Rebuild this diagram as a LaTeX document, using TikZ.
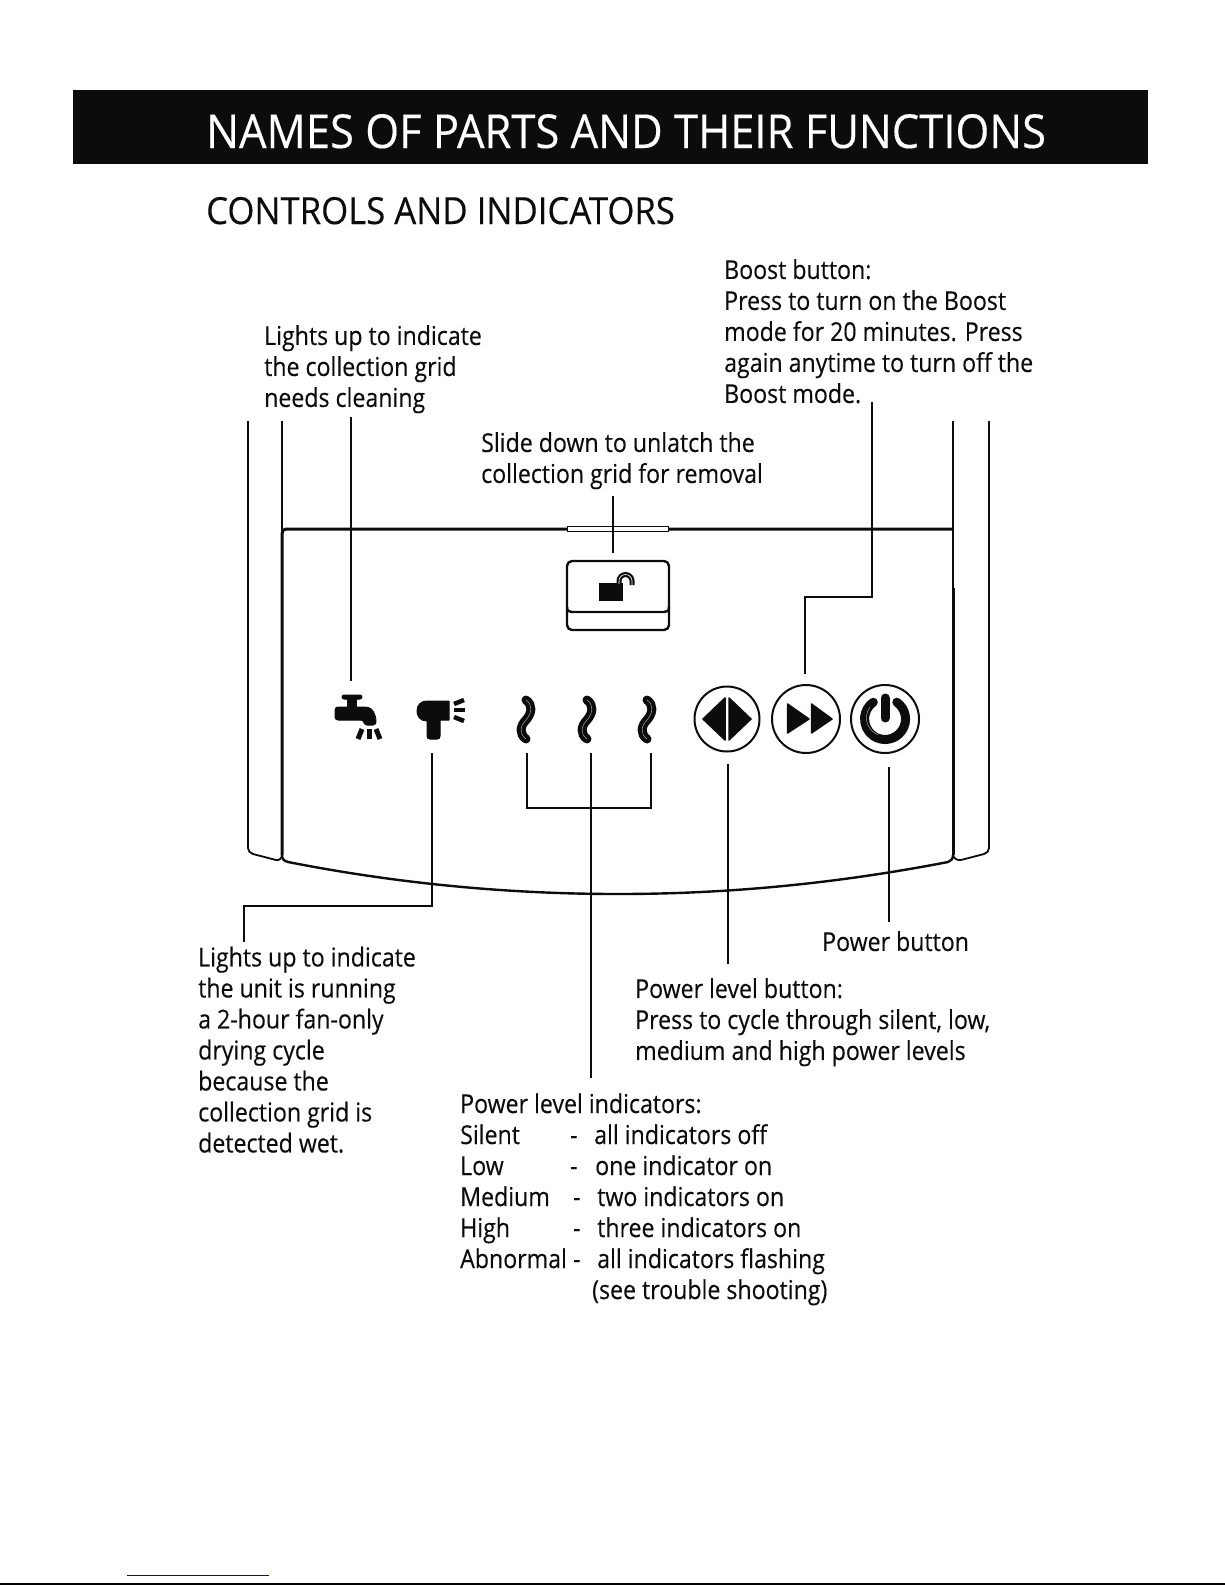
\documentclass[tikz,border=0pt]{standalone}
\usepackage{fontspec}
\setmainfont[FakeStretch=.89,FakeBold=.25]{Open Sans}
\newfontfamily\headfont[FakeStretch=.93,FakeBold=.25]{Open Sans}
\usetikzlibrary{calc}
\definecolor{inkblack}{HTML}{0C0C0C}
\tikzset{
  note/.style={anchor=north west, inner sep=0pt, align=left, text=inkblack, font=\fontsize{26}{31}\selectfont},
  row/.style={anchor=base west, inner sep=0pt, text=inkblack, font=\fontsize{26}{31}\selectfont},
  leader/.style={draw=inkblack, line width=1.2pt},
  shell/.style={draw=inkblack, line width=1.8pt, line join=round},
  ring/.style={draw=inkblack, line width=2pt},
  solid ink/.style={fill=inkblack, draw=inkblack, line width=1pt, line join=round},
  wave/.style={draw=inkblack, line width=9pt, line cap=round},
  wave core/.style={draw=gray!70, line width=.5pt},
}
\begin{document}
\begin{tikzpicture}[x=1pt,y=-1pt]
  \useasboundingbox (0,0) rectangle (1225,1585);
  \fill[white] (0,0) rectangle (1225,1585);

  % heading
  \fill[inkblack] (73,90) rectangle (1148,164);
  \node[anchor=base west, inner sep=0pt, text=white, font=\headfont\fontsize{46.8}{50}\selectfont] (mainTitle) at (206,148) {NAMES OF PARTS AND THEIR FUNCTIONS};
  \node[anchor=base west, inner sep=0pt, text=inkblack, font=\headfont\fontsize{37.3}{40}\selectfont] (subTitle) at (206,224) {CONTROLS AND INDICATORS};

  % notes
  \node[note] (cleanNote) at (264,325) {Lights up to indicate\\the collection grid\\needs cleaning};
  \node[note] (boostNote) at (724,259) {Boost button:\\Press to turn on the Boost\\mode for 20 minutes. Press\\again anytime to turn off the\\Boost mode.};
  \node[note] (latchNote) at (481,432) {Slide down to unlatch the\\collection grid for removal};
  \node[note] (fanNote) at (198,946.5) {Lights up to indicate\\the unit is running\\a 2-hour fan-only\\drying cycle\\because the\\collection grid is\\detected wet.};
  \node[note] (powerNote) at (822,931) {Power button};
  \node[note] (levelNote) at (635,978) {Power level button:\\Press to cycle through silent, low,\\medium and high power levels};
  \node[row] (tableHead) at (460,1113) {Power level indicators:};
  \foreach \id/\y/\lvl/\dashx/\txtx/\txt in {a/1144/Silent/570/594/all indicators off,b/1175/Low/570/595/one indicator on,c/1206/Medium/573/597/two indicators on,d/1237/High/573/597/three indicators on,e/1268/Abnormal/573/597/all indicators flashing}{
    \node[row] (lvl\id) at (460,\y) {\lvl};
    \node[row] (dash\id) at (\dashx,\y) {-};
    \node[row] (txt\id) at (\txtx,\y) {\txt};
  }
  \node[row] (tableEnd) at (592,1299) {(see trouble shooting)};

  % housing
  \draw[shell] (248,421) -- (248,848) .. controls (248,851) and (250,853) .. (253,854) -- (276,860) .. controls (279,861) and (282,858) .. (282,855) -- (282,421);
  \draw[shell] (989,421) -- (989,848) .. controls (989,851) and (987,853) .. (984,854) -- (961,860) .. controls (958,861) and (953,858) .. (953,855) -- (953,421);
  \draw[inkblack, line width=3pt] (282,855) -- (282,534) .. controls (282,531) and (283,529) .. (286,529) -- (567,529) (668,529) -- (953,529);
  \draw[inkblack, line width=3pt] (953,855) -- (953,588);
  \draw[inkblack, line width=1pt] (567,526) rectangle (668,531);
  \draw[shell, line width=2.4pt] (282,855) .. controls (282,859) and (284,861) .. (288,862) .. controls (400,884) and (510,894) .. (618,894) .. controls (726,894) and (834,884) .. (948,862) .. controls (951,861) and (953,859) .. (953,855);

  % latch with lock
  \draw[shell, line width=2.4pt, rounded corners=5pt] (567,561) rectangle (669,630);
  \draw[shell, line width=2.4pt] (567,607) .. controls (567,611) and (569,612) .. (572,612) -- (664,612) .. controls (667,612) and (669,611) .. (669,607);
  \fill[inkblack] (599,583) rectangle (623,601);
  \draw[inkblack, line width=5pt] (619,584) -- (619,581) arc (180:360:6.5) -- (632,585);
  \draw[white, line width=.6pt] (619,584) -- (619,581) arc (180:360:6.5) -- (632,585);

  % tap
  \draw[solid ink, rounded corners=2pt] (342,695) rectangle (362,699);
  \fill[inkblack] (347,697) rectangle (357,708);
  \draw[solid ink, rounded corners=3pt] (335,707) -- (365,707) .. controls (372,708) and (376,714) .. (376,725) -- (364,725) -- (364,720) -- (335,720) -- cycle;
  \draw[inkblack, line width=5pt] (362,729) -- (358,739);
  \draw[inkblack, line width=5pt] (369,729) -- (369,739);
  \draw[inkblack, line width=5pt] (376,729) -- (380,739);

  % fan
  \draw[solid ink] (427,701) -- (449,701) -- (449,720) -- (440,720) -- (440,736) .. controls (440,738) and (439,739) .. (437,739) -- (430,739) .. controls (428,739) and (427,738) .. (427,736) -- (427,721) .. controls (420,721) and (417,716) .. (417,711) .. controls (417,705) and (421,701) .. (427,701) -- cycle;
  \draw[inkblack, line width=4.5pt] (454,704) -- (464,700);
  \draw[inkblack, line width=4.5pt] (454,710) -- (465,710);
  \draw[inkblack, line width=4.5pt] (454,717) -- (464,721);

  % indicators
  \foreach \dx in {0,61,121}{
    \draw[wave] (526+\dx,700) .. controls (533+\dx,705) and (532+\dx,713) .. (526+\dx,720) .. controls (520+\dx,726) and (519+\dx,734) .. (526+\dx,739);
    \draw[wave core] (526+\dx,700) .. controls (533+\dx,705) and (532+\dx,713) .. (526+\dx,720) .. controls (520+\dx,726) and (519+\dx,734) .. (526+\dx,739);
  }

  % buttons
  \draw[ring] (727,719) circle (32.5);
  \draw[ring] (806,719) circle (34);
  \draw[ring] (885,719) circle (34);
  \draw[solid ink, line width=1.5pt] (725,698) -- (703,719) -- (725,740) -- cycle;
  \draw[solid ink, line width=1.5pt] (729,698) -- (751,719) -- (729,740) -- cycle;
  \draw[solid ink, line width=1.5pt] (787.5,704) -- (809,719) -- (787.5,733) -- cycle;
  \draw[solid ink, line width=1.5pt] (811.5,704) -- (832,719) -- (811.5,733) -- cycle;
  \draw[inkblack, line width=9pt, line cap=round] (896.8,702.2) arc (-55:235:20.5);
  \draw[gray!70, line width=.5pt] (870,707) arc (217:110:18);
  \draw[inkblack, line width=9pt, line cap=round] (885,698) -- (885,718);

  % connectors
  \coordinate (cleanFoot) at (351,417);
  \coordinate (tapTop) at (351,681);
  \coordinate (fanFoot) at (432,753);
  \coordinate (fanBend) at (432,906);
  \coordinate (fanCorner) at (244,906);
  \coordinate (fanHead) at (244,942);
  \coordinate (waveA) at (527,753);
  \coordinate (waveB) at (591,753);
  \coordinate (waveC) at (651,753);
  \coordinate (barA) at (527,808);
  \coordinate (barC) at (651,808);
  \coordinate (tableTop) at (591,1078);
  \coordinate (levelFoot) at (728,764);
  \coordinate (levelHead) at (728,964);
  \coordinate (powerFoot) at (889,767);
  \coordinate (powerHead) at (889,922);
  \coordinate (boostFoot) at (872,402);
  \coordinate (boostBend) at (872,597);
  \coordinate (boostCorner) at (805,597);
  \coordinate (boostEnd) at (805,674);
  \coordinate (latchFoot) at (613,496);
  \coordinate (latchEnd) at (613,553);
  \draw[leader] (cleanFoot) -- (tapTop);
  \draw[leader] (fanFoot) -- (fanBend) -- (fanCorner) -- (fanHead);
  \draw[leader] (waveA) -- (barA) -- (barC) -- (waveC);
  \draw[leader] (waveB) -- (tableTop);
  \draw[leader] (levelFoot) -- (levelHead);
  \draw[leader] (powerFoot) -- (powerHead);
  \draw[leader] (boostFoot) -- (boostBend) -- (boostCorner) -- (boostEnd);
  \draw[leader] (latchFoot) -- (latchEnd);

  % page foot
  \draw[blue!80!black, line width=1pt] (127,1575) -- (269,1575);
  \draw[black, line width=2pt] (0,1584) -- (1225,1584);
\end{tikzpicture}
\end{document}
